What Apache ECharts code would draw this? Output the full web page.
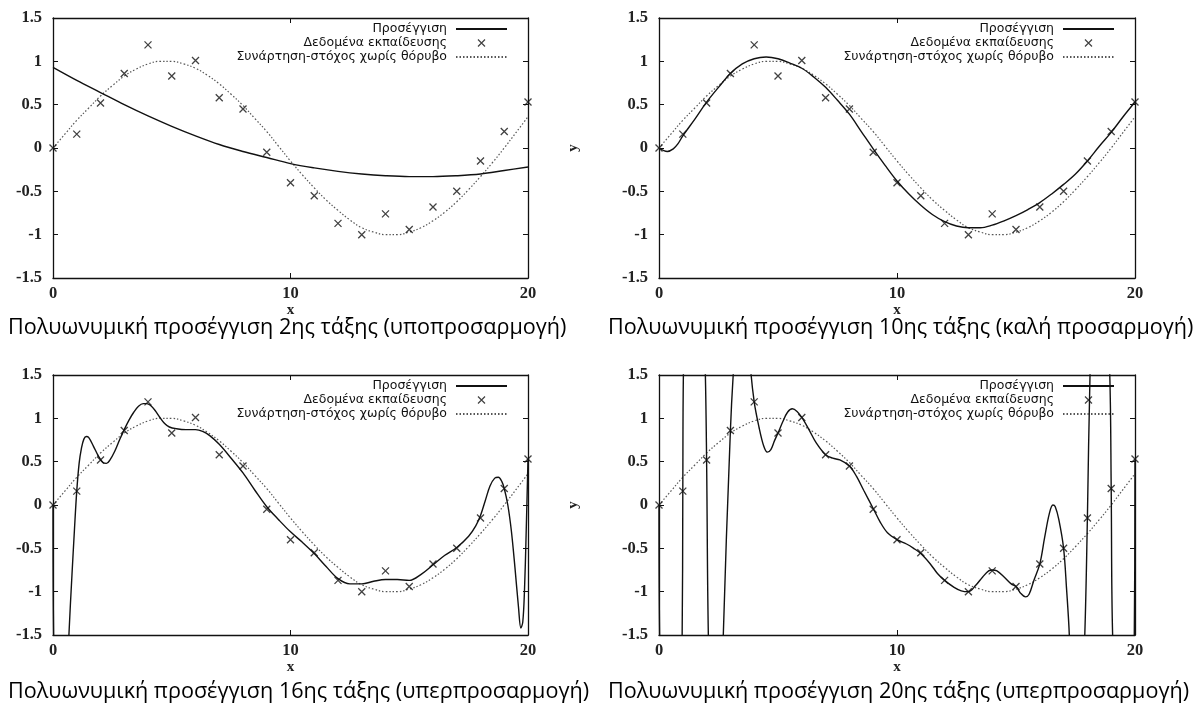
<!DOCTYPE html>
<html><head><meta charset="utf-8">
<script src="https://cdn.jsdelivr.net/npm/echarts@6/dist/echarts.min.js"></script>
<style>html,body{margin:0;padding:0;background:#fff}#c{width:1204px;height:704px}</style>
</head><body><div id="c"></div>
<script>
// ---------- data ----------
const NAME_FIT = 'Προσέγγιση';
const NAME_DATA = 'Δεδομένα εκπαίδευσης';
const NAME_TARGET = 'Συνάρτηση-στόχος χωρίς θόρυβο';

const panelTitles = [
  'Πολυωνυμική προσέγγιση 2ης τάξης (υποπροσαρμογή)',
  'Πολυωνυμική προσέγγιση 10ης τάξης (καλή προσαρμογή)',
  'Πολυωνυμική προσέγγιση 16ης τάξης (υπερπροσαρμογή)',
  'Πολυωνυμική προσέγγιση 20ης τάξης (υπερπροσαρμογή)'
];

// training data (x = 0..20)
const trainX = [0,1,2,3,4,5,6,7,8,9,10,11,12,13,14,15,16,17,18,19,20];
const trainY = [0.00,0.16,0.52,0.86,1.19,0.83,1.01,0.58,0.45,-0.05,-0.40,-0.55,-0.87,-1.00,-0.76,-0.94,-0.68,-0.50,-0.15,0.19,0.53];

// noiseless target function, read every 0.5
const targetX = [0,0.5,1,1.5,2,2.5,3,3.5,4,4.5,5,5.5,6,6.5,7,7.5,8,8.5,9,9.5,10,10.5,11,11.5,12,12.5,13,13.5,14,14.5,15,15.5,16,16.5,17,17.5,18,18.5,19,19.5,20];
const targetY = [0,0.16,0.32,0.46,0.60,0.72,0.83,0.91,0.97,1.00,1.00,0.97,0.92,0.84,0.74,0.62,0.49,0.34,0.19,0.02,-0.15,-0.31,-0.46,-0.60,-0.72,-0.83,-0.92,-0.97,-1.00,-1.00,-0.97,-0.92,-0.84,-0.74,-0.62,-0.48,-0.33,-0.17,0.00,0.18,0.36];

// order-2 fit
const fit2X = [0,1,2,3,4,5,6,7,8,9,10,11,12,13,14,15,16,17,18,19,20];
const fit2Y = [0.93,0.78,0.64,0.50,0.37,0.25,0.14,0.04,-0.04,-0.11,-0.18,-0.23,-0.27,-0.30,-0.32,-0.33,-0.33,-0.32,-0.30,-0.26,-0.22];

// order-10 fit
const fit10X = [0,0.2,0.35,0.6,0.8,1,1.5,2,2.5,3,3.5,4,4.5,5,5.5,6,6.5,7,7.5,8,8.5,9,9.5,10,10.5,11,11.5,12,12.5,13,13.5,14,14.5,15,15.5,16,16.5,17,17.5,18,18.5,19,19.5,20];
const fit10Y = [0,-0.03,-0.04,-0.01,0.05,0.14,0.33,0.53,0.70,0.86,0.97,1.03,1.05,1.03,0.98,0.92,0.82,0.70,0.55,0.39,0.19,-0.01,-0.20,-0.38,-0.53,-0.66,-0.77,-0.85,-0.90,-0.92,-0.92,-0.89,-0.84,-0.78,-0.71,-0.63,-0.53,-0.42,-0.30,-0.15,0.02,0.18,0.36,0.53];

// order-16 fit
const fit16X = [0,0.03,0.3,0.55,0.67,0.8,0.9,1.0,1.1,1.2,1.3,1.4,1.5,1.7,1.9,2.1,2.25,2.4,2.6,2.8,3.0,3.2,3.4,3.6,3.8,3.95,4.1,4.3,4.5,4.7,4.9,5.2,5.6,6.0,6.3,6.6,7.0,7.5,8.0,8.5,9.0,9.5,10.0,10.5,11.0,11.5,12.0,12.5,13.0,13.5,14.0,14.5,15.0,15.5,16.0,16.5,17.0,17.5,17.8,18.0,18.2,18.4,18.6,18.75,18.9,19.0,19.15,19.3,19.45,19.6,19.7,19.78,19.85,19.92,20.0];
const fit16Y = [0,-1.6,-4,-2.4,-1.5,-0.8,-0.3,0.16,0.48,0.66,0.76,0.79,0.78,0.68,0.57,0.49,0.48,0.52,0.62,0.75,0.87,0.98,1.07,1.14,1.17,1.17,1.15,1.09,1.01,0.94,0.90,0.88,0.87,0.87,0.85,0.80,0.70,0.54,0.37,0.17,-0.02,-0.17,-0.31,-0.43,-0.56,-0.71,-0.85,-0.91,-0.91,-0.88,-0.86,-0.86,-0.87,-0.80,-0.69,-0.58,-0.49,-0.36,-0.24,-0.12,0.05,0.22,0.31,0.32,0.27,0.19,0.00,-0.30,-0.72,-1.18,-1.42,-1.35,-1.00,-0.35,0.53];

// order-20 fit (interpolates all points)
const fit20X = [0,0.03,0.5,0.97,1.0,1.03,1.5,1.94,2.0,2.08,2.4,2.69,3.0,3.14,3.5,3.84,4.0,4.2,4.4,4.55,4.7,4.85,5.0,5.2,5.4,5.6,5.8,6.0,6.3,6.6,7.0,7.3,7.6,8.0,8.3,8.6,9.0,9.3,9.6,10.0,10.4,10.7,11.0,11.4,11.7,12.0,12.4,12.7,13.0,13.3,13.6,13.85,14.0,14.2,14.5,14.8,15.0,15.2,15.4,15.55,15.75,16.0,16.2,16.4,16.55,16.65,16.8,17.0,17.12,17.24,17.55,17.89,18.0,18.11,18.5,18.94,19.0,19.06,19.5,19.97,20.0];
const fit20Y = [0,-1.6,-6,-1.6,0.16,1.6,6,1.6,0.52,-1.6,-5,-1.6,0.86,1.6,3,1.6,1.19,0.90,0.68,0.61,0.64,0.74,0.83,0.96,1.07,1.11,1.08,1.01,0.87,0.72,0.58,0.54,0.52,0.45,0.33,0.17,-0.04,-0.20,-0.32,-0.40,-0.45,-0.50,-0.56,-0.68,-0.79,-0.87,-0.95,-0.99,-1.00,-0.93,-0.83,-0.76,-0.75,-0.76,-0.83,-0.91,-0.94,-1.02,-1.06,-1.03,-0.87,-0.68,-0.38,-0.10,0.00,-0.02,-0.17,-0.50,-0.95,-1.5,-4,-1.5,-0.15,1.5,5,1.5,0.19,-1.5,-5,-1.5,0.53];

const xTicks = {min: 0, max: 20, interval: 10};
const yTicks = {min: -1.5, max: 1.5, interval: 0.5};

// ---------- layout ----------
const pair = (xs, ys) => xs.map((x, i) => [x, ys[i]]);
const fits = [pair(fit2X, fit2Y), pair(fit10X, fit10Y), pair(fit16X, fit16Y), pair(fit20X, fit20Y)];
const grids = [
  {left: 53, top: 18, width: 475, height: 260},
  {left: 659, top: 18, width: 476, height: 260},
  {left: 53, top: 375, width: 475, height: 260},
  {left: 659, top: 375, width: 476, height: 260}
];
const titleTops = [317, 317, 681, 681];
const showY = [false, true, false, true];
const tickFont = {fontFamily: 'Liberation Serif', fontSize: 16.5, fontWeight: 'bold', color: '#222'};
const CROSS = 'path://M0,0L10,10M10,0L0,10';
const frameLine = {show: true, onZero: false, lineStyle: {color: '#111', width: 1.3}};
const tickStyle = {inside: true, length: 5, lineStyle: {color: '#111', width: 1}};

const option = {
  animation: false,
  backgroundColor: '#fff',
  title: grids.map((g, i) => ({
    text: panelTitles[i], left: i % 2 === 0 ? 8 : 608, top: titleTops[i], padding: 0,
    textStyle: {fontFamily: 'Open Sans', fontSize: 21.6, fontWeight: 'normal', color: '#000'}
  })),
  grid: grids.map(g => Object.assign({show: false}, g)),
  legend: grids.map((g, i) => ({
    data: [
      {name: NAME_FIT, itemStyle: {opacity: 0}},
      {name: NAME_DATA, icon: CROSS},
      {name: NAME_TARGET, itemStyle: {opacity: 0}}
    ],
    orient: 'vertical', align: 'right', padding: 0,
    right: 1204 - (g.left + g.width - 20), top: g.top + 4,
    itemWidth: 51, itemHeight: 7, itemGap: 0, selectedMode: false,
    textStyle: {fontFamily: 'DejaVu Sans', fontSize: 12.5, color: '#111', lineHeight: 14, padding: [0, 4, 0, 0]},
    itemStyle: {borderWidth: 1.2}
  })),
  xAxis: [],
  yAxis: [],
  series: []
};

grids.forEach((g, i) => {
  option.xAxis.push(Object.assign({
    type: 'value', gridIndex: i, position: 'bottom',
    name: 'x', nameLocation: 'middle', nameGap: 22,
    nameTextStyle: Object.assign({}, tickFont, {fontSize: 15}),
    axisLine: frameLine, splitLine: {show: false},
    axisTick: tickStyle,
    axisLabel: Object.assign({margin: 7}, tickFont)
  }, xTicks));
  option.xAxis.push(Object.assign({
    type: 'value', gridIndex: i, position: 'top',
    axisLine: frameLine, splitLine: {show: false},
    axisTick: tickStyle,
    axisLabel: {show: false}
  }, xTicks));
  option.yAxis.push(Object.assign({
    type: 'value', gridIndex: i, position: 'left',
    name: showY[i] ? 'y' : '', nameLocation: 'middle', nameGap: 78,
    nameTextStyle: Object.assign({}, tickFont, {fontSize: 15}),
    axisLine: frameLine, splitLine: {show: false},
    axisTick: tickStyle,
    axisLabel: Object.assign({margin: 11}, tickFont)
  }, yTicks));
  option.yAxis.push(Object.assign({
    type: 'value', gridIndex: i, position: 'right',
    axisLine: frameLine, splitLine: {show: false},
    axisTick: tickStyle,
    axisLabel: {show: false}
  }, yTicks));

  option.series.push({
    name: NAME_TARGET, type: 'line', xAxisIndex: 2 * i, yAxisIndex: 2 * i,
    data: pair(targetX, targetY), smooth: 0.4, symbol: 'none', clip: true, silent: true,
    itemStyle: {color: '#555'},
    lineStyle: {color: '#555', width: 1.2, type: [1.5, 2]}, z: 2
  });
  option.series.push({
    name: NAME_FIT, type: 'line', xAxisIndex: 2 * i, yAxisIndex: 2 * i,
    data: fits[i], smooth: 0.35, symbol: 'none', clip: true, silent: true,
    itemStyle: {color: '#111'},
    lineStyle: {color: '#111', width: 1.4}, z: 3
  });
  option.series.push({
    name: NAME_DATA, type: 'scatter', xAxisIndex: 2 * i, yAxisIndex: 2 * i,
    data: pair(trainX, trainY), symbol: CROSS, symbolSize: 7, symbolKeepAspect: true, silent: true,
    itemStyle: {color: 'rgba(0,0,0,0)', borderColor: '#111', borderWidth: 1.3}, z: 4
  });
});

const chart = echarts.init(document.getElementById('c'), null, {renderer: 'canvas'});
chart.setOption(option);
</script></body></html>
